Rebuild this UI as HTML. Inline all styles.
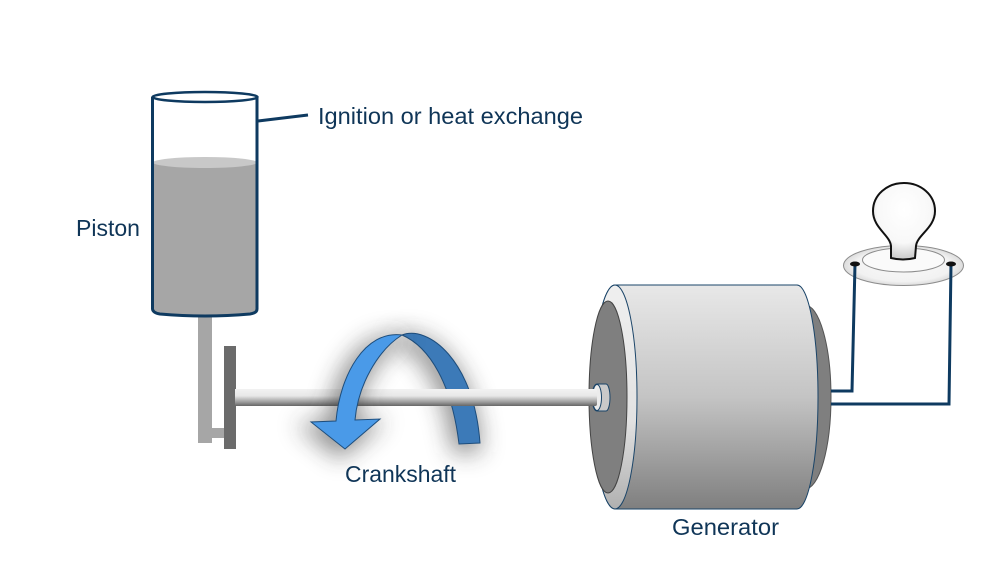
<!DOCTYPE html>
<html>
<head>
<meta charset="utf-8">
<style>
html,body{margin:0;padding:0;background:#fff;width:989px;height:574px;overflow:hidden}
svg{display:block}
text{font-family:"Liberation Sans",sans-serif;font-size:23px;fill:#0f3557}
</style>
</head>
<body>
<svg width="989" height="574" viewBox="0 0 989 574" xmlns="http://www.w3.org/2000/svg">
<defs>
<linearGradient id="shaft" x1="0" y1="0" x2="0" y2="1">
<stop offset="0" stop-color="#f2f2f2"/><stop offset=".4" stop-color="#e8e8e8"/><stop offset=".75" stop-color="#a0a0a0"/><stop offset="1" stop-color="#666"/>
</linearGradient>
<linearGradient id="body" x1="0" y1="0" x2="0" y2="1">
<stop offset="0" stop-color="#e8e8e8"/><stop offset=".5" stop-color="#c4c4c4"/><stop offset="1" stop-color="#7f7f7f"/>
</linearGradient>
<linearGradient id="ring" x1="0" y1="0" x2="0" y2="1">
<stop offset="0" stop-color="#efefef"/><stop offset=".6" stop-color="#e2e2e2"/><stop offset="1" stop-color="#b0b0b0"/>
</linearGradient>
<radialGradient id="bulb" cx=".5" cy=".35" r=".62">
<stop offset="0" stop-color="#fff"/><stop offset=".7" stop-color="#f8f8f8"/><stop offset="1" stop-color="#cfcfcf"/>
</radialGradient>
<radialGradient id="plate" cx=".5" cy=".5" r=".5">
<stop offset="0" stop-color="#f8f8f8"/><stop offset=".8" stop-color="#f2f2f2"/><stop offset="1" stop-color="#dcdcdc"/>
</radialGradient>
<filter id="blur" filterUnits="userSpaceOnUse" x="240" y="260" width="320" height="270"><feGaussianBlur stdDeviation="12"/></filter>
</defs>

<!-- piston -->
<rect x="198" y="314" width="14" height="129" fill="#a6a6a6"/>
<rect x="212" y="428" width="13" height="10" fill="#a6a6a6"/>
<rect x="224" y="346" width="12" height="103" fill="#6b6b6b"/>
<path d="M152.500 162 L152.500 309 Q153 313 160 314 Q205 318 250 314 Q257 313 257 309 L257 162 Z" fill="#a6a6a6"/>
<ellipse cx="205" cy="162.500" rx="52" ry="5.500" fill="#c8c8c8"/>
<path d="M152.500 97 L152.500 309 Q153 313 160 314 Q205 318 250 314 Q257 313 257 309 L257 97" fill="none" stroke="#0e3a60" stroke-width="3"/>
<ellipse cx="205" cy="97" rx="52.500" ry="5" fill="none" stroke="#0e3a60" stroke-width="2.500"/>
<line x1="258" y1="121" x2="308" y2="115" stroke="#0e3a60" stroke-width="3"/>

<!-- back arrow with shadow -->
<g filter="url(#blur)" opacity=".55" transform="translate(-3,5)">
<path d="M402 335 C428 325 474 360 480 443 L459 444 C452 385 430 347 402 335 Z" fill="#333" stroke="#333" stroke-width="8"/>
</g>
<path d="M402 335 C428 325 474 360 480 443 L459 444 C452 385 430 347 402 335 Z" fill="#3c7ab8" stroke="#1d4d7c" stroke-width="1"/>

<!-- shaft -->
<rect x="235" y="389" width="363" height="17" fill="url(#shaft)"/>

<!-- front arrow with shadow -->
<g filter="url(#blur)" opacity=".55" transform="translate(-5,5)">
<path d="M402 335 C365 330 340 375 336 420 L311 422 L345 449 L380 419 L355 420 C358 385 378 350 402 335 Z" fill="#333" stroke="#333" stroke-width="8"/>
</g>
<path d="M402 335 C365 330 340 375 336 421 L311 422 L345 449 L380 419 L355 420 C358 385 378 350 402 335 Z" fill="#4a9ae8" stroke="#1d4d7c" stroke-width="1"/>

<!-- back dome -->
<ellipse cx="805" cy="397" rx="26" ry="92" fill="#7f7f7f" stroke="#555" stroke-width="1"/>

<!-- generator -->
<path d="M615 285 L797 285 A21 112 0 0 1 797 509 L615 509 A22 112 0 0 1 615 285 Z" fill="url(#body)" stroke="#1a4468" stroke-width="1"/>
<ellipse cx="615" cy="397" rx="22" ry="112" fill="url(#ring)" stroke="#1a4468" stroke-width="1"/>
<ellipse cx="608" cy="397" rx="19" ry="96" fill="#7f7f7f" stroke="#444" stroke-width="1"/>

<!-- stub -->
<path d="M597 384 L606 384 A4 13.500 0 0 1 606 411 L597 411 A5 13.500 0 0 1 597 384 Z" fill="#c9c9c9" stroke="#1a4468" stroke-width="1"/>
<ellipse cx="597" cy="397.500" rx="4.500" ry="13" fill="#ececec" stroke="#1a4468" stroke-width="1"/>
<rect x="585" y="389" width="12" height="17" rx="2" fill="url(#shaft)"/>

<!-- lamp -->
<ellipse cx="903.500" cy="265.500" rx="60" ry="20" fill="url(#plate)" stroke="#8c8c8c" stroke-width="1"/>
<ellipse cx="903.500" cy="260" rx="41" ry="12" fill="#fafafa" stroke="#8c8c8c" stroke-width="1"/>
<path d="M891 258 L891 246 C890 235 873 228 873 211 C873 195 887 183 904 183 C921 183 935 195 935 211 C935 228 917 235 916 246 L915 258 Q903 261 891 258 Z" fill="url(#bulb)" stroke="#111" stroke-width="2"/>

<!-- wires -->
<path d="M855 264 L852 391 L831 391" fill="none" stroke="#0e3a60" stroke-width="3"/>
<path d="M951 264 L949 404 L831 404" fill="none" stroke="#0e3a60" stroke-width="3"/>
<ellipse cx="855" cy="264" rx="5" ry="2.500" fill="#111"/>
<ellipse cx="951" cy="264" rx="5" ry="2.500" fill="#111"/>

<!-- labels -->
<text x="318" y="124" textLength="265" lengthAdjust="spacingAndGlyphs">Ignition or heat exchange</text>
<text x="76" y="236" textLength="64" lengthAdjust="spacingAndGlyphs">Piston</text>
<text x="345" y="482" textLength="111" lengthAdjust="spacingAndGlyphs">Crankshaft</text>
<text x="672" y="535" textLength="107" lengthAdjust="spacingAndGlyphs">Generator</text>
</svg>
</body>
</html>
